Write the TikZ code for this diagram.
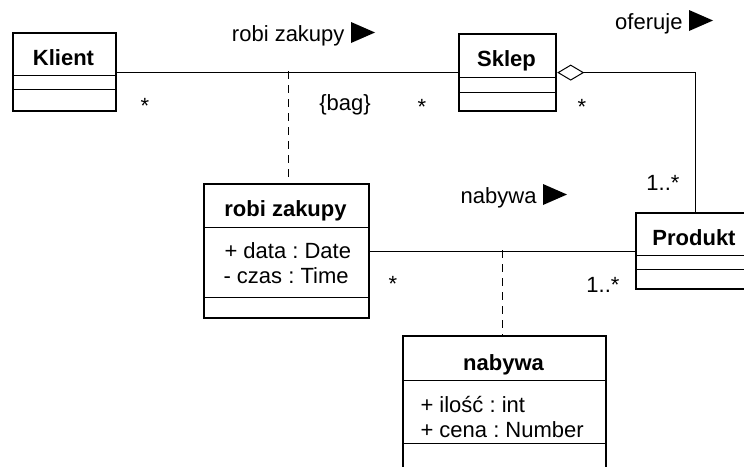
\documentclass[tikz,border=0pt]{standalone}
\usepackage{fontspec}
\setmainfont{Liberation Sans}
\usetikzlibrary{arrows.meta}

\begin{document}
\begin{tikzpicture}[x=1pt, y=-1pt, line width=1pt,
	every node/.append style={font=\fontsize{22}{25}\selectfont\frenchspacing, inner sep=0pt},
	klasa/.style={draw, line width=2.2pt, anchor=north west},
	tytul/.style={anchor=base, font=\fontsize{22}{25}\selectfont\bfseries},
	atrybut/.style={anchor=base west},
	krotnosc/.style={anchor=base},
	przerywana/.style={dash pattern=on 8pt off 6pt},
	agregacja/.style={{Diamond[open, length=27pt, width=16pt, line width=1pt]}-}]
		\useasboundingbox (0,0) rectangle (744,466);
		\clip (0,0) rectangle (744,466);
		\node[klasa, minimum width=103, minimum height=78] (klient) at (12,32) {};
		\node[klasa, minimum width=97, minimum height=77] (sklep) at (458,33) {};
		\node[klasa, minimum width=165, minimum height=134] (robi) at (203,183) {};
		\node[klasa, minimum width=118, minimum height=76] (produkt) at (635,212) {};
		\node[klasa, minimum width=203, minimum height=150] (nabywa) at (402,335) {};
		\foreach \n/\a in {klient/75, klient/89, sklep/77, sklep/92, robi/227, robi/297, produkt/255, produkt/269, nabywa/380, nabywa/443} {
			\draw (\n.west |- 0,\a) -- (\n.east |- 0,\a);
		}
		\node[tytul] (klientT) at (63.5,65) {Klient};
		\node[tytul] (sklepT) at (506.5,66) {Sklep};
		\node[tytul] (robiT) at (285.5,216) {robi zakupy};
		\node[tytul] (produktT) at (694,245) {Produkt};
		\node[tytul] (nabywaT) at (503.5,370) {nabywa};
		\node[atrybut] (robiA1) at (224,258) {+ data : Date};
		\node[atrybut] (robiA2) at (223,283) {- czas : Time};
		\node[atrybut] (nabywaA1) at (420,412) {+ ilość : int};
		\node[atrybut] (nabywaA2) at (420,437) {+ cena : Number};
		\draw (klient.east) -- (klient.east -| sklep.west);
		\draw[agregacja] (sklep.east) -| (produkt.north);
		\draw (robi.east) -- (produkt.west);
		\coordinate (robiP) at (288,71);
		\coordinate (nabywaP) at (502,250);
		\draw[przerywana] (robiP) -- (robiP |- robi.north);
		\draw[przerywana] (nabywaP) -- (nabywaP |- nabywa.north);
		\foreach \n/\x/\y/\m in {robiL/345/41/robi zakupy, oferujeL/683/29/oferuje, nabywaL/537/203/nabywa} {
			\node[anchor=base east] (\n) at (\x,\y) {\m};
			\fill (\n.base east) ++(6,2) -- ++(0,-21) -- ++(24,10.5) -- cycle;
		}
		\node[anchor=base] (bag) at (345,110) {\{bag\}};
		\foreach \x/\y/\m [count=\i] in {145/113/*, 422/114/*, 582/114/*, 663/190/{1..*}, 393/291/*, 603/292/{1..*}} {
			\node[krotnosc] (k\i) at (\x,\y) {\m};
		}
	\end{tikzpicture}
\end{document}
